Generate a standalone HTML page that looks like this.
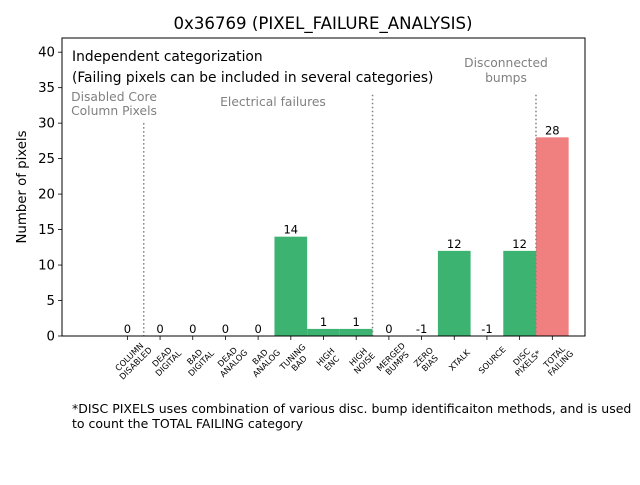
<!DOCTYPE html>
<html><head><meta charset="utf-8"><style>
body{margin:0;background:#fff}
svg{font-family:"DejaVu Sans","Liberation Sans",sans-serif}
</style></head><body>
<svg id="chart" width="640" height="480" viewBox="0 0 640 480">
<rect width="640" height="480" fill="#fff"/>
<text x="323" y="29" font-size="16.6" text-anchor="middle">0x36769 (PIXEL_FAILURE_ANALYSIS)</text>
<g id="plot"></g>
<text transform="translate(26,187) rotate(-90)" font-size="13.3" text-anchor="middle">Number of pixels</text>
<text x="72" y="61" font-size="13.8">Independent categorization</text>
<text x="72" y="82" font-size="13.8">(Failing pixels can be included in several categories)</text>
<text x="114" y="101" font-size="12.3" fill="#808080" text-anchor="middle">Disabled Core</text>
<text x="114" y="115" font-size="12.3" fill="#808080" text-anchor="middle">Column Pixels</text>
<text x="273" y="106" font-size="12.3" fill="#808080" text-anchor="middle">Electrical failures</text>
<text x="506" y="67" font-size="12.3" fill="#808080" text-anchor="middle">Disconnected</text>
<text x="506" y="82" font-size="12.3" fill="#808080" text-anchor="middle">bumps</text>
<text x="72" y="413" font-size="12.5">*DISC PIXELS uses combination of various disc. bump identificaiton methods, and is used</text>
<text x="72" y="428" font-size="12.5">to count the TOTAL FAILING category</text>
</svg>
<script>
const categories=[["COLUMN","DISABLED"],["DEAD","DIGITAL"],["BAD","DIGITAL"],["DEAD","ANALOG"],["BAD","ANALOG"],["TUNING","BAD"],["HIGH","ENC"],["HIGH","NOISE"],["MERGED","BUMPS"],["ZERO","BIAS"],["XTALK"],["SOURCE"],["DISC","PIXELS*"],["TOTAL","FAILING"]];
const values=[0,0,0,0,0,14,1,1,0,-1,12,-1,12,28];
const yTicks=[0,5,10,15,20,25,30,35,40];
const separators=[0.5,7.5,12.5];
const separatorTops=[30,34,34];

const NS="http://www.w3.org/2000/svg";
const L=62,R=585,T=38,B=336,xmin=-2,xmax=14,ymin=0,ymax=42;
const xs=v=>L+(v-xmin)/(xmax-xmin)*(R-L);
const ys=v=>B-(v-ymin)/(ymax-ymin)*(B-T);
const g=document.getElementById('plot');
function mk(t,a,p){const e=document.createElementNS(NS,t);for(const k in a)e.setAttribute(k,a[k]);(p||g).appendChild(e);return e;}
values.forEach((v,i)=>{
  const top=ys(Math.max(v,0)),bot=ys(0);
  if(v>0){const r=mk('rect',{x:xs(i-0.5),y:top,width:xs(i+0.5)-xs(i-0.5),height:bot-top,fill:i===values.length-1?'#f08080':'#3cb371'});
  
  }
  const t=mk('text',{x:xs(i),y:top-3,'font-size':11.5,'text-anchor':'middle'});t.textContent=v;
  
  
  mk('line',{x1:xs(i),x2:xs(i),y1:B,y2:B+4,stroke:'#000','stroke-width':0.8});
  const lg=mk('g',{transform:`translate(${xs(i)+5},${B+24}) rotate(-45)`});
  
  
  categories[i].forEach((s,j)=>{const tt=mk('text',{x:0,y:(j-(categories[i].length-1)/2)*9+3,'font-size':8.3,'text-anchor':'middle'},lg);tt.textContent=s;});
});
separators.forEach((s,k)=>{const l=mk('line',{x1:xs(s),x2:xs(s),y1:ys(separatorTops[k]),y2:B,stroke:'#808080','stroke-width':1.5,'stroke-dasharray':'1.5,2.5'});

});
yTicks.forEach(v=>{mk('line',{x1:L-4,x2:L,y1:ys(v),y2:ys(v),stroke:'#000','stroke-width':0.8});
const t=mk('text',{x:L-7,y:ys(v)+4.5,'font-size':13.3,'text-anchor':'end'});t.textContent=v;

});
const f=mk('rect',{x:L,y:T,width:R-L,height:B-T,fill:'none',stroke:'#000','stroke-width':1});


</script>
</body></html>
